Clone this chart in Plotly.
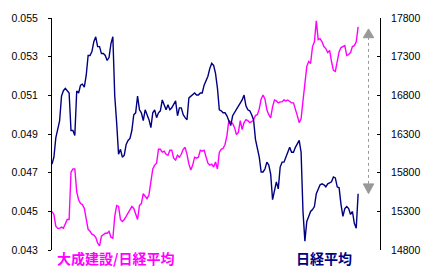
import plotly.graph_objects as go

# 大成建設/日経平均 (left axis)
ratio = [
    0.04499, 0.04484, 0.04423, 0.04412, 0.04412, 0.04418, 0.04412, 0.04438, 0.04458, 0.04458,
    0.04703, 0.04719, 0.04719, 0.04601, 0.04560, 0.04540, 0.04535, 0.04515, 0.04448, 0.04407,
    0.04397, 0.04382, 0.04377, 0.04366, 0.04336, 0.04321, 0.04372, 0.04382, 0.04387, 0.04387,
    0.04397, 0.04366, 0.04361, 0.04474, 0.04530, 0.04525, 0.04458, 0.04448, 0.04458, 0.04474,
    0.04489, 0.04509, 0.04525, 0.04515, 0.04484, 0.04458, 0.04530, 0.04540, 0.04591, 0.04576,
    0.04566, 0.04586, 0.04663, 0.04719, 0.04739, 0.04749, 0.04821, 0.04821, 0.04806, 0.04811,
    0.04795, 0.04790, 0.04816, 0.04816, 0.04775, 0.04765, 0.04790, 0.04780, 0.04795, 0.04821,
    0.04831, 0.04795, 0.04744, 0.04714, 0.04739, 0.04780, 0.04775, 0.04780, 0.04816, 0.04811,
    0.04816, 0.04785, 0.04749, 0.04739, 0.04744, 0.04729, 0.04755, 0.04719, 0.04806, 0.04821,
    0.04826, 0.04846, 0.04892, 0.04969, 0.04959, 0.04954, 0.04933, 0.04897, 0.04908, 0.04969,
    0.04923, 0.04959, 0.04974, 0.04969, 0.04959, 0.04964, 0.04974, 0.04995, 0.05000, 0.05030,
    0.05081, 0.05102, 0.05081, 0.05025, 0.05000, 0.04984, 0.05040, 0.05076, 0.05071, 0.05061,
    0.05066, 0.05066, 0.05076, 0.05071, 0.05076, 0.05066, 0.05061, 0.05061, 0.05020, 0.04995,
    0.04959, 0.04979, 0.05071, 0.05173, 0.05250, 0.05275, 0.05265, 0.05352, 0.05377, 0.05485,
    0.05388, 0.05393, 0.05377, 0.05352, 0.05342, 0.05321, 0.05332, 0.05275, 0.05229, 0.05224,
    0.05286, 0.05326, 0.05347, 0.05352, 0.05357, 0.05306, 0.05311, 0.05321, 0.05352, 0.05357,
    0.05377, 0.05454,
]

# 日経平均 (right axis)
nikkei = [
    15910, 16000, 16250, 16360, 16470, 16790, 16860, 16890, 16860, 16830,
    16345, 16345, 16280, 16855, 16830, 16932, 16945, 16906, 17060, 17315,
    17315, 17366, 17494, 17557, 17430, 17430, 17340, 17340, 17315, 17251,
    17289, 17468, 17557, 16791, 16447, 16038, 16102, 16000, 16026, 16166,
    16217, 16243, 16345, 16549, 16574, 16791, 16613, 16574, 16472, 16613,
    16549, 16485, 16383, 16574, 16613, 16511, 16574, 16600, 16740, 16664,
    16613, 16677, 16613, 16638, 16689, 16728, 16536, 16638, 16638, 16549,
    16511, 16485, 16766, 16791, 16804, 16830, 16804, 16804, 16830, 16830,
    16932, 16983, 17047, 17149, 17213, 17187, 17085, 16894, 16613, 16600,
    16574, 16574, 16536, 16472, 16409, 16536, 16574, 16613, 16664, 16702,
    16740, 16804, 16664, 16613, 16600, 16549, 16485, 16230, 16128, 16000,
    15809, 15809, 15847, 15936, 15898, 15783, 15451, 15553, 15681, 15591,
    15872, 15936, 15936, 16000, 16077, 16128, 16064, 16064, 16128, 16166,
    16217, 16064, 15298, 14915, 15170, 15234, 15298, 15323, 15362, 15528,
    15591, 15643, 15655, 15643, 15617, 15655, 15668, 15681, 15745, 15732,
    15617, 15604, 15387, 15234, 15336, 15362, 15336, 15260, 15298, 15145,
    15081, 15528,
]

left_ticks = [0.043, 0.045, 0.047, 0.049, 0.051, 0.053, 0.055]
right_ticks = [14800, 15300, 15800, 16300, 16800, 17300, 17800]

ratio_name = "大成建設/日経平均"
nikkei_name = "日経平均"

MAGENTA = "#FF00FF"
NAVY = "#000080"
GREY = "#999999"

idx = list(range(len(ratio)))

fig = go.Figure()
fig.add_trace(go.Scatter(x=idx, y=ratio, mode="lines", name=ratio_name,
                         line=dict(color=MAGENTA, width=1.4), yaxis="y"))
fig.add_trace(go.Scatter(x=idx, y=nikkei, mode="lines", name=nikkei_name,
                         line=dict(color=NAVY, width=1.4), yaxis="y2"))

tickfont = dict(family="Liberation Sans, Arial, sans-serif", size=10.5, color="black")

fig.update_layout(
    width=432, height=275,
    margin=dict(l=42, r=45, t=14, b=25),
    paper_bgcolor="white", plot_bgcolor="white",
    showlegend=False,
    xaxis=dict(range=[0, 172.5], showline=False, showticklabels=False,
               showgrid=False, zeroline=False, ticks=""),
    yaxis=dict(range=[0.043, 0.055], tickvals=left_ticks, tickformat=".3f",
               showline=True, linecolor="black", linewidth=1,
               ticks="outside", ticklen=3, tickcolor="black",
               showgrid=False, zeroline=False, tickfont=tickfont,
               ticklabelstandoff=8),
    yaxis2=dict(range=[14800, 17800], tickvals=right_ticks, tickformat="d",
                overlaying="y", side="right", anchor="x",
                showline=True, linecolor="black", linewidth=1,
                ticks="inside", ticklen=3, tickcolor="black",
                showgrid=False, zeroline=False, tickfont=tickfont,
                ticklabelstandoff=8),
)

# dotted range indicator with arrows
ax = 0.965
fig.add_shape(type="line", xref="paper", yref="paper", x0=ax, x1=ax, y0=0.285, y1=0.915,
              line=dict(color=GREY, width=1, dash="dot"))
fig.add_shape(type="path", xref="paper", yref="paper",
              path=f"M {ax-0.016},0.915 L {ax},0.953 L {ax+0.016},0.915 Z",
              fillcolor=GREY, line=dict(color=GREY, width=1))
fig.add_shape(type="path", xref="paper", yref="paper",
              path=f"M {ax-0.016},0.285 L {ax},0.243 L {ax+0.016},0.285 Z",
              fillcolor=GREY, line=dict(color=GREY, width=1))

labfont = "Noto Sans CJK JP, sans-serif"
fig.add_annotation(text=f"<b>{ratio_name}</b>", xref="paper", yref="paper",
                   x=0.008, y=-0.034, xanchor="left", yanchor="middle", showarrow=False,
                   font=dict(family=labfont, size=14, color=MAGENTA))
fig.add_annotation(text=f"<b>{nikkei_name}</b>", xref="paper", yref="paper",
                   x=0.737, y=-0.034, xanchor="left", yanchor="middle", showarrow=False,
                   font=dict(family=labfont, size=14, color=NAVY))

fig.write_html("out.html")
